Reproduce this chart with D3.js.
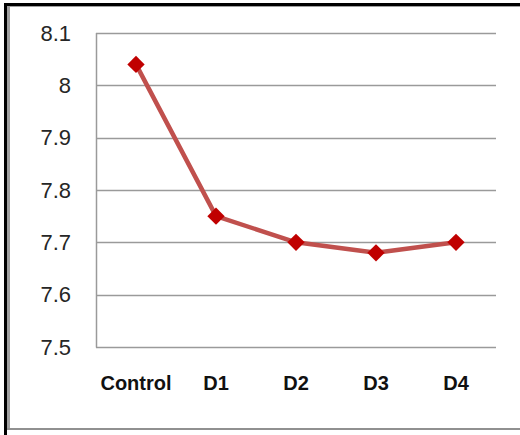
<!DOCTYPE html>
<html><head><meta charset="utf-8">
<script src="https://cdn.jsdelivr.net/npm/d3@7"></script>
<style>html,body{margin:0;padding:0;background:#fff;}svg{display:block;}</style>
</head><body>
<svg id="c" width="520" height="435"></svg>
<script>
const categories = ["Control", "D1", "D2", "D3", "D4"];
const values = [8.04, 7.75, 7.70, 7.68, 7.70];
const yTicks = [7.5, 7.6, 7.7, 7.8, 7.9, 8.0, 8.1];
const yTickLabels = ["7.5", "7.6", "7.7", "7.8", "7.9", "8", "8.1"];

const svg = d3.select("#c");
// frame
svg.append("rect").attr("x",4).attr("y",3).attr("width",520).attr("height",3).attr("fill","#000");
svg.append("rect").attr("x",4).attr("y",3).attr("width",3).attr("height",432).attr("fill","#000");
svg.append("rect").attr("x",7).attr("y",6).attr("width",3).attr("height",424).attr("fill","#a0a0a0");
svg.append("rect").attr("x",7).attr("y",6).attr("width",513).attr("height",1).attr("fill","#a0a0a0");
svg.append("rect").attr("x",7).attr("y",428).attr("width",513).attr("height",2).attr("fill","#909090");

const x = d3.scaleBand().domain(categories).range([96, 496]);
const y = d3.scaleLinear().domain([7.5, 8.1]).range([347, 33]);

const g = svg.append("g");
g.selectAll("line.grid").data(yTicks).join("line")
  .attr("x1", 96).attr("x2", 496)
  .attr("y1", d => Math.round(y(d)) + 0.5).attr("y2", d => Math.round(y(d)) + 0.5)
  .attr("stroke", "#9a9a9a").attr("stroke-width", 1.5);
g.append("line").attr("x1", 96.5).attr("x2", 96.5).attr("y1", y(8.1)).attr("y2", y(7.5)+0.5)
  .attr("stroke", "#9a9a9a").attr("stroke-width", 1.5);

const yAxis = d3.axisLeft(y).tickValues(yTicks).tickFormat((d,i) => yTickLabels[i]).tickSize(0).tickPadding(25);
const ya = svg.append("g").attr("transform","translate(96,0)").call(yAxis);
ya.select(".domain").remove();
ya.selectAll("text").attr("font-family","Liberation Sans, Arial, sans-serif").attr("font-size",22).attr("fill","#262626");

const xAxis = d3.axisBottom(x).tickSize(0).tickPadding(29);
const xa = svg.append("g").attr("transform","translate(0,347)").call(xAxis);
xa.select(".domain").remove();
xa.selectAll("text").attr("font-family","Liberation Sans, Arial, sans-serif").attr("font-weight","bold").attr("font-size",20).attr("fill","#111");

const line = d3.line().x((d,i) => x(categories[i]) + x.bandwidth()/2).y(d => y(d));
svg.append("path").datum(values).attr("d", line).attr("fill","none")
  .attr("stroke","#c0504d").attr("stroke-width",4.5).attr("stroke-linejoin","round");

const sym = d3.symbol().type(d3.symbolSquare).size(150);
svg.selectAll("path.m").data(values).join("path")
  .attr("d", sym)
  .attr("transform", (d,i) => `translate(${x(categories[i]) + x.bandwidth()/2},${y(d)}) rotate(45)`)
  .attr("fill","#c00000");
</script>
</body></html>
